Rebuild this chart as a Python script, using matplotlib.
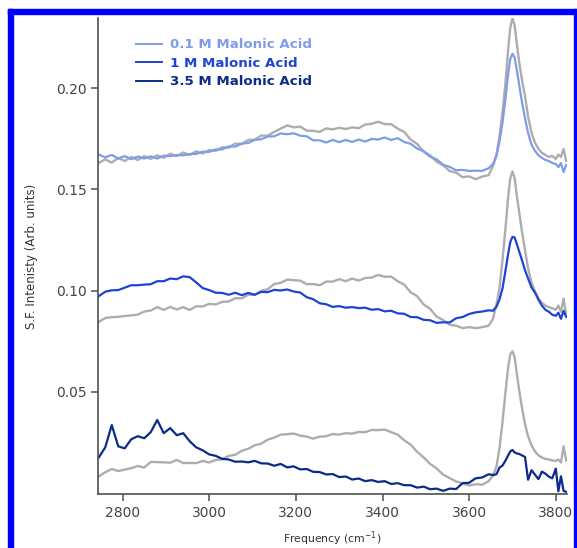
import matplotlib
matplotlib.use("Agg")
import matplotlib.pyplot as plt
from matplotlib.patches import Rectangle

# frequency grid (cm-1), finer across the free OH peak
freq = [2745, 2760, 2775, 2790, 2805, 2820, 2835, 2850, 2865, 2880,
        2895, 2910, 2925, 2940, 2955, 2970, 2985, 3000, 3015, 3030,
        3045, 3060, 3075, 3090, 3105, 3120, 3135, 3150, 3165, 3180,
        3195, 3210, 3225, 3240, 3255, 3270, 3285, 3300, 3315, 3330,
        3345, 3360, 3375, 3390, 3405, 3420, 3435, 3450, 3465, 3480,
        3495, 3510, 3525, 3540, 3555, 3570, 3585, 3600, 3615, 3630,
        3645, 3655, 3663, 3670, 3677, 3684, 3690, 3695, 3700, 3705,
        3710, 3716, 3722, 3729, 3736, 3744, 3752, 3760, 3768, 3776,
        3784, 3792, 3800, 3806, 3812, 3818, 3824]

# neat water reference, offset for each panel
water_top = [0.1630, 0.1648, 0.1632, 0.1655, 0.1640, 0.1660, 0.1645, 0.1664,
             0.1650, 0.1668, 0.1656, 0.1676, 0.1664, 0.1682, 0.1670, 0.1688, 0.1677, 0.1694,
             0.1690, 0.1708, 0.1706, 0.1726, 0.1724, 0.1744, 0.1745, 0.1766, 0.1765, 0.1784,
             0.1800, 0.1816, 0.1806, 0.1810, 0.1790, 0.1789, 0.1784, 0.1801, 0.1796, 0.1804,
             0.1798, 0.1806, 0.1802, 0.1820, 0.1824, 0.1834, 0.1822, 0.1822, 0.1800, 0.1784,
             0.1746, 0.1724, 0.1686, 0.1668, 0.1636, 0.1619, 0.1590, 0.1582, 0.1560, 0.1564,
             0.1550, 0.1563, 0.1570,
             0.1615, 0.1670, 0.1760, 0.1880, 0.2030, 0.2190, 0.2300, 0.2345, 0.2310, 0.2220,
             0.2120, 0.2040, 0.1960, 0.1860, 0.1780, 0.1730, 0.1700, 0.1680, 0.1670, 0.1660,
             0.1665, 0.1650, 0.1672, 0.1660, 0.1700, 0.1640]

acid_01 = [0.1672, 0.1658, 0.1670, 0.1652, 0.1664, 0.1649, 0.1662, 0.1652,
           0.1663, 0.1652, 0.1666, 0.1664, 0.1669, 0.1668, 0.1674, 0.1675, 0.1686, 0.1685,
           0.1697, 0.1697, 0.1712, 0.1711, 0.1726, 0.1729, 0.1744, 0.1747, 0.1761, 0.1762,
           0.1776, 0.1772, 0.1777, 0.1765, 0.1762, 0.1742, 0.1742, 0.1731, 0.1744, 0.1733,
           0.1744, 0.1734, 0.1746, 0.1736, 0.1749, 0.1746, 0.1756, 0.1744, 0.1753, 0.1734,
           0.1725, 0.1701, 0.1688, 0.1661, 0.1648, 0.1621, 0.1611, 0.1594, 0.1596, 0.1591,
           0.1592, 0.1591, 0.1604,
           0.1625, 0.1665, 0.1735, 0.1830, 0.1950, 0.2070, 0.2145, 0.2170, 0.2150, 0.2090,
           0.2010, 0.1930, 0.1850, 0.1780, 0.1720, 0.1690, 0.1668, 0.1655, 0.1645, 0.1640,
           0.1630, 0.1625, 0.1610, 0.1630, 0.1585, 0.1620]

water_mid = [0.0845, 0.0864, 0.0868, 0.0870, 0.0874, 0.0877, 0.0881, 0.0896,
             0.0901, 0.0918, 0.0904, 0.0919, 0.0906, 0.0918, 0.0904, 0.0922, 0.0921, 0.0934,
             0.0931, 0.0944, 0.0946, 0.0962, 0.0961, 0.0979, 0.0978, 0.0999, 0.1006, 0.1032,
             0.1038, 0.1054, 0.1051, 0.1049, 0.1031, 0.1032, 0.1026, 0.1044, 0.1044, 0.1056,
             0.1046, 0.1059, 0.1049, 0.1062, 0.1064, 0.1077, 0.1068, 0.1069, 0.1046, 0.1029,
             0.0991, 0.0972, 0.0931, 0.0909, 0.0871, 0.0854, 0.0831, 0.0826, 0.0814, 0.0819,
             0.0814, 0.0819, 0.0826,
             0.0860, 0.0930, 0.1010, 0.1150, 0.1310, 0.1460, 0.1555, 0.1588, 0.1555, 0.1470,
             0.1380, 0.1290, 0.1200, 0.1110, 0.1040, 0.0995, 0.0960, 0.0940, 0.0925, 0.0918,
             0.0912, 0.0905, 0.0925, 0.0895, 0.0960, 0.0880]

acid_1 = [0.0972, 0.0994, 0.1001, 0.1002, 0.1014, 0.1026, 0.1026, 0.1029,
          0.1031, 0.1046, 0.1046, 0.1059, 0.1056, 0.1070, 0.1066, 0.1040, 0.1012, 0.1002,
          0.0989, 0.0988, 0.0979, 0.0989, 0.0977, 0.0988, 0.0979, 0.0993, 0.0992, 0.1003,
          0.1000, 0.1005, 0.0995, 0.0990, 0.0967, 0.0957, 0.0937, 0.0932, 0.0919, 0.0923,
          0.0915, 0.0918, 0.0913, 0.0915, 0.0905, 0.0908, 0.0897, 0.0900, 0.0887, 0.0885,
          0.0869, 0.0868, 0.0855, 0.0853, 0.0840, 0.0843, 0.0842, 0.0863, 0.0869, 0.0884,
          0.0892, 0.0896, 0.0902,
          0.0900, 0.0920, 0.0955, 0.1010, 0.1100, 0.1180, 0.1240, 0.1265, 0.1262, 0.1230,
          0.1190, 0.1150, 0.1100, 0.1060, 0.1015, 0.0990, 0.0955, 0.0925, 0.0905, 0.0895,
          0.0880, 0.0875, 0.0890, 0.0860, 0.0900, 0.0870]

water_bot = [0.0081, 0.0102, 0.0118, 0.0108, 0.0115, 0.0122, 0.0133, 0.0125,
             0.0153, 0.0152, 0.0151, 0.0149, 0.0163, 0.0147, 0.0148, 0.0147, 0.0158, 0.0150,
             0.0163, 0.0166, 0.0183, 0.0188, 0.0208, 0.0218, 0.0235, 0.0243, 0.0263, 0.0273,
             0.0288, 0.0290, 0.0293, 0.0283, 0.0278, 0.0268, 0.0278, 0.0280, 0.0291, 0.0288,
             0.0295, 0.0293, 0.0301, 0.0300, 0.0311, 0.0310, 0.0313, 0.0300, 0.0288, 0.0260,
             0.0238, 0.0203, 0.0175, 0.0143, 0.0121, 0.0090, 0.0073, 0.0056, 0.0048, 0.0036,
             0.0043, 0.0040, 0.0058,
             0.0085, 0.0130, 0.0220, 0.0350, 0.0500, 0.0620, 0.0685, 0.0700, 0.0670, 0.0590,
             0.0500, 0.0420, 0.0340, 0.0280, 0.0235, 0.0205, 0.0185, 0.0175, 0.0168, 0.0165,
             0.0160, 0.0158, 0.0165, 0.0150, 0.0230, 0.0160]

acid_35 = [0.0175, 0.0225, 0.0335, 0.0230, 0.0220, 0.0265, 0.0280, 0.0270,
           0.0300, 0.0360, 0.0295, 0.0320, 0.0285, 0.0295, 0.0255, 0.0225, 0.0210, 0.0190,
           0.0183, 0.0168, 0.0165, 0.0154, 0.0155, 0.0151, 0.0158, 0.0146, 0.0145, 0.0134,
           0.0143, 0.0126, 0.0131, 0.0116, 0.0118, 0.0104, 0.0103, 0.0091, 0.0093, 0.0078,
           0.0081, 0.0066, 0.0071, 0.0058, 0.0063, 0.0054, 0.0058, 0.0044, 0.0048, 0.0038,
           0.0038, 0.0026, 0.0031, 0.0018, 0.0021, 0.0010, 0.0021, 0.0019, 0.0048, 0.0050,
           0.0072, 0.0076, 0.0092,
           0.0088, 0.0092, 0.0125, 0.0135, 0.0160, 0.0185, 0.0205, 0.0212, 0.0200, 0.0195,
           0.0192, 0.0185, 0.0178, 0.0065, 0.0112, 0.0090, 0.0068, 0.0105, 0.0095, 0.0080,
           0.0072, 0.0120, 0.0008, 0.0082, 0.0010, 0.0005]

labels = ["0.1 M Malonic Acid", "1 M Malonic Acid", "3.5 M Malonic Acid"]
colors = ["#7f9ceb", "#1f43d4", "#0c2a8a"]
gray = "#adadad"

fig = plt.figure(figsize=(5.77, 5.48), dpi=100)
ax = fig.add_axes([0.1704, 0.098, 0.8116, 0.8686])

for ref in (water_top, water_mid, water_bot):
    ax.plot(freq, ref, color=gray, lw=1.7, label="_nolegend_")
for vals, lab, col in zip((acid_01, acid_1, acid_35), labels, colors):
    ax.plot(freq, vals, color=col, lw=1.6, label=lab)

ax.set_xlim(2744, 3825)
ax.set_ylim(-0.0007, 0.2345)
ax.set_xticks([2800, 3000, 3200, 3400, 3600, 3800])
ax.set_yticks([0.05, 0.10, 0.15, 0.20])
ax.set_yticklabels(["0.05", "0.10", "0.15", "0.20"])

for side in ("top", "right"):
    ax.spines[side].set_visible(False)
for side in ("left", "bottom"):
    ax.spines[side].set_color("#505050")
    ax.spines[side].set_linewidth(1.2)
ax.tick_params(direction="out", length=5, width=1.1, color="#505050",
               labelcolor="#444444", labelsize=10)

ax.set_xlabel("Frequency (cm$^{-1}$)", fontsize=7.8, color="#333333", labelpad=7)
ax.set_ylabel("S.F. Intenisty (Arb. units)", fontsize=8.5, color="#333333", labelpad=13)

leg = ax.legend(loc="upper left", bbox_to_anchor=(0.08, 0.958), frameon=False,
                handlelength=2.0, handletextpad=0.55, labelspacing=0.42,
                borderpad=0, borderaxespad=0, prop={"weight": "bold", "size": 9.6},
                labelcolor="linecolor")
for h in leg.get_lines():
    h.set_linewidth(1.4)

# blue frame around the figure
W, H = 577, 548
fig.patches.append(Rectangle((8 / W, 0), 5 / W, 539 / H, transform=fig.transFigure,
                             color="#0000ff", zorder=10))
fig.patches.append(Rectangle((8 / W, 534 / H), 569 / W, 5 / H, transform=fig.transFigure,
                             color="#0000ff", zorder=10))
fig.patches.append(Rectangle((574 / W, 0), 2 / W, 539 / H, transform=fig.transFigure,
                             color="#0000ff", zorder=10))

fig.savefig("out.png", dpi=100)
